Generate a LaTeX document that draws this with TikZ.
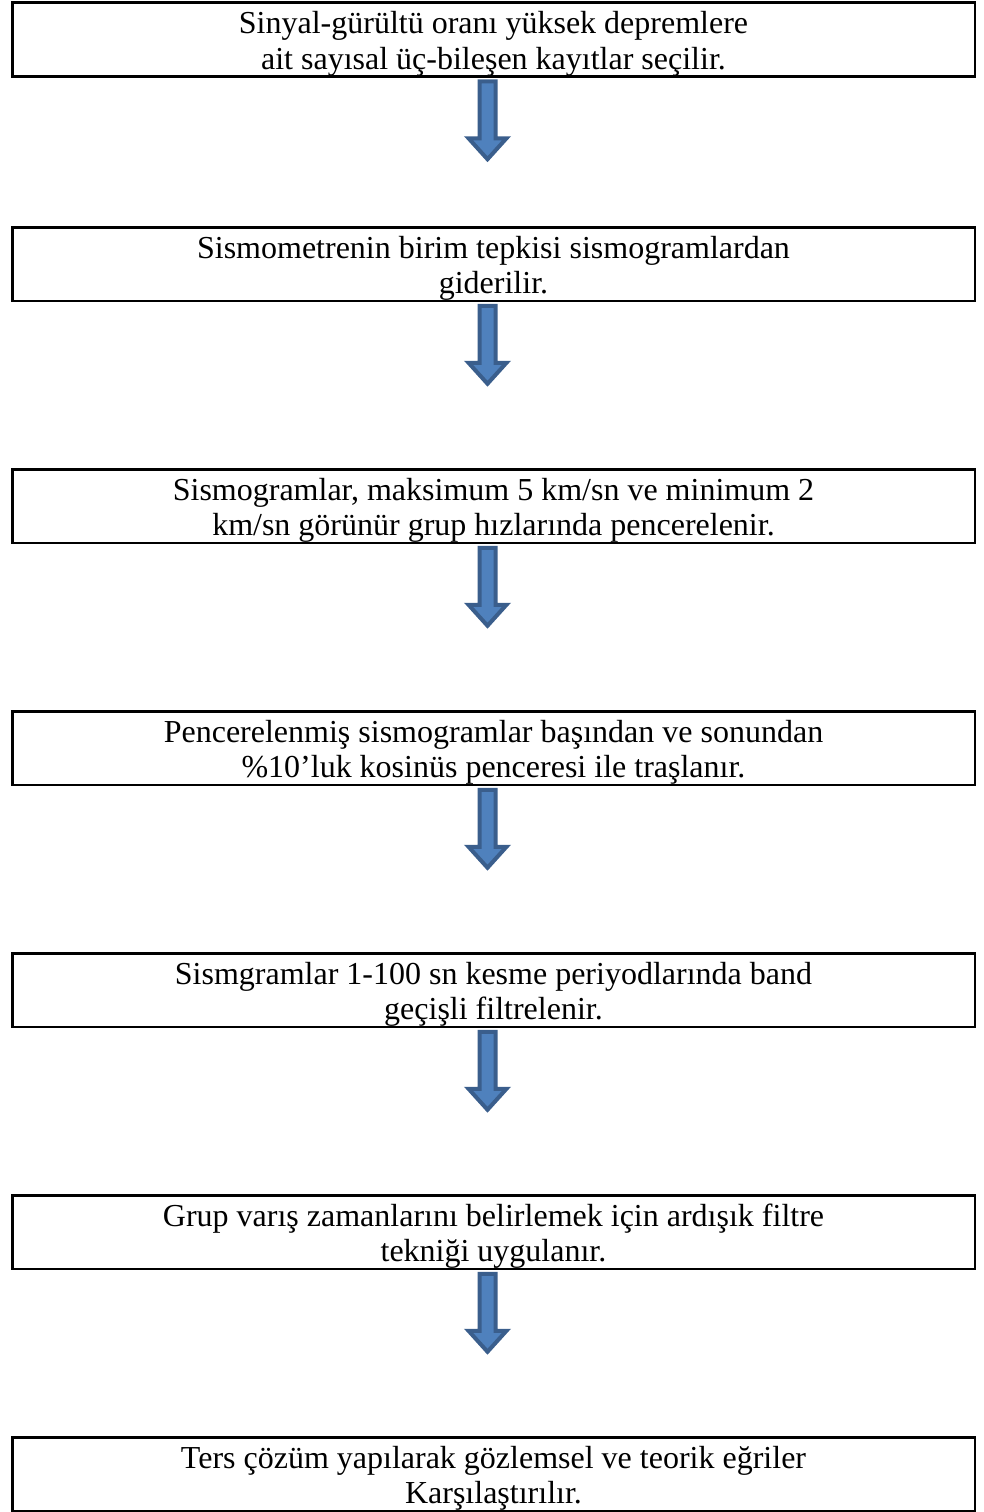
\documentclass[tikz,border=0pt]{standalone}
\usepackage{fontspec}
\setmainfont{Liberation Serif}
\usetikzlibrary{positioning,calc}
\definecolor{arrowfill}{RGB}{79,129,189}
\definecolor{arrowline}{RGB}{58,94,140}

\begin{document}
\begin{tikzpicture}[x=1pt,y=1pt,
    stepbox/.style={draw=black,line width=2.5pt,inner sep=0pt,outer sep=0pt,
                    minimum width=962.5pt,minimum height=73.5pt,
                    text width=962.5pt,align=flush center,
                    font=\fontsize{32}{35.5}\selectfont,
                    execute at begin node={\rule{0pt}{31pt}},
                    execute at end node={\rule[-7pt]{0pt}{7pt}}},
    flowarrow/.style={draw=arrowline,fill=arrowfill,line width=4pt,
                      line join=miter}]
    \useasboundingbox (0,0) rectangle (984,-1512);
    \node[stepbox] (s1) at (493.5,-39.5)
      {Sinyal-gürültü oranı yüksek depremlere\\ait sayısal üç-bileşen kayıtlar seçilir.};
    \node[stepbox,below=151pt of s1] (s2)
      {Sismometrenin birim tepkisi sismogramlardan\\giderilir.};
    \node[stepbox,below=168.5pt of s2] (s3)
      {Sismogramlar, maksimum 5 km/sn ve minimum 2\\km/sn görünür grup hızlarında pencerelenir.};
    \node[stepbox,below=168.5pt of s3] (s4)
      {Pencerelenmiş sismogramlar başından ve sonundan\\\%10’luk kosinüs penceresi ile traşlanır.};
    \node[stepbox,below=168.5pt of s4] (s5)
      {Sismgramlar 1-100 sn kesme periyodlarında band\\geçişli filtrelenir.};
    \node[stepbox,below=168.5pt of s5] (s6)
      {Grup varış zamanlarını belirlemek için ardışık filtre\\tekniği uygulanır.};
    \node[stepbox,below=168.5pt of s6] (s7)
      {Ters çözüm yapılarak gözlemsel ve teorik eğriler\\Karşılaştırılır.};
    % block arrows hanging under each box
    \foreach \a in {s1,s2,s3,s4,s5,s6}
      \draw[flowarrow] ($(\a.south)+(-6,-5)$) ++(-8,0) -- ++(0,-57)
        -- ++(-11,0) -- ++(19,-21) -- ++(19,21) -- ++(-11,0) -- ++(0,57) -- cycle;
\end{tikzpicture}
\end{document}
